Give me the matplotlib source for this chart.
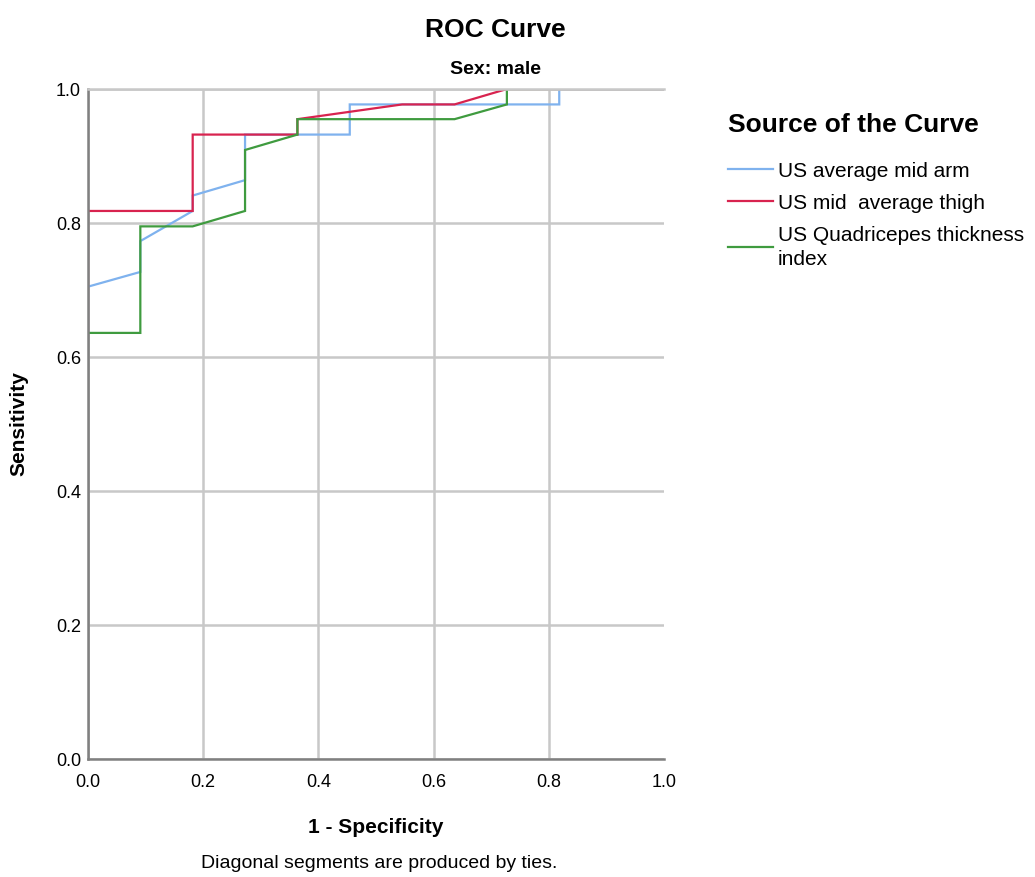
import numpy as np
import matplotlib
matplotlib.use("Agg")
import matplotlib.pyplot as plt

plt.rcParams['font.family'] = ['Liberation Sans Narrow', 'Liberation Sans', 'DejaVu Sans']

# ROC curve points (1 - specificity, sensitivity)
arm_x = [0.0, 0.0, 0.0909, 0.0909, 0.1818, 0.1818, 0.2727, 0.2727, 0.4545, 0.4545, 0.8182, 0.8182, 1.0]
arm_y = [0.0, 0.705, 0.727, 0.773, 0.818, 0.841, 0.864, 0.932, 0.932, 0.977, 0.977, 1.0, 1.0]

thigh_x = [0.0, 0.0, 0.1818, 0.1818, 0.3636, 0.3636, 0.5455, 0.6364, 0.7273, 1.0]
thigh_y = [0.0, 0.818, 0.818, 0.932, 0.932, 0.955, 0.977, 0.977, 1.0, 1.0]

quad_x = [0.0, 0.0, 0.0909, 0.0909, 0.1818, 0.2727, 0.2727, 0.3636, 0.3636, 0.6364, 0.7273, 0.7273, 1.0]
quad_y = [0.0, 0.636, 0.636, 0.795, 0.795, 0.818, 0.909, 0.932, 0.955, 0.955, 0.977, 1.0, 1.0]

labels = ["US average mid arm", "US mid  average thigh", "US Quadricepes thickness\nindex"]
colors = ["#7fb2ee", "#d8234f", "#3f9b3f"]
ticks = [0.0, 0.2, 0.4, 0.6, 0.8, 1.0]

fig = plt.figure(figsize=(10.35, 8.77), dpi=100)
ax = fig.add_axes([0.085, 0.1345, 0.5565, 0.764])

for xs, ys, c, lab in zip([arm_x, thigh_x, quad_x], [arm_y, thigh_y, quad_y], colors, labels):
    ax.plot(xs, ys, color=c, lw=1.6, label=lab, solid_joinstyle="miter")

ax.set_xlim(0, 1)
ax.set_ylim(0, 1)
ax.set_xticks(ticks)
ax.set_yticks(ticks)
ax.set_xticklabels([f"{t:.1f}" for t in ticks], fontsize=13)
ax.set_yticklabels([f"{t:.1f}" for t in ticks], fontsize=13)
ax.grid(True, color="#c8c8c8", lw=1.8)
ax.get_xgridlines()[-1].set_visible(False)
ax.set_axisbelow(True)
ax.tick_params(axis="x", length=0, pad=11)
ax.tick_params(axis="y", length=0, pad=5)
ax.spines["right"].set_visible(False)
ax.spines["top"].set_color("#c8c8c8")
ax.spines["top"].set_linewidth(1.8)
ax.spines["left"].set_color("#808080")
ax.spines["left"].set_linewidth(1.8)
ax.spines["bottom"].set_color("#808080")
ax.spines["bottom"].set_linewidth(1.8)

ax.set_xlabel("1 - Specificity", fontsize=15, fontweight="bold", labelpad=19)
ax.set_ylabel("Sensitivity", fontsize=15, fontweight="bold", labelpad=20)

fig.text(0.479, 0.966, "ROC Curve", ha="center", va="center", fontsize=19, fontweight="bold")
fig.text(0.479, 0.921, "Sex: male", ha="center", va="center", fontsize=14, fontweight="bold")
fig.text(0.366, 0.015, "Diagonal segments are produced by ties.", ha="center", va="center", fontsize=14)

leg = fig.legend(loc="upper left", bbox_to_anchor=(0.695, 0.881), frameon=False,
                 title="Source of the Curve", fontsize=15, handlelength=2.2,
                 handletextpad=0.2, labelspacing=0.62, borderaxespad=0)
leg.get_title().set_fontsize(19)
leg.get_title().set_fontweight("bold")
for t in leg.get_texts():
    t.set_linespacing(1.35)
leg._legend_box.align = "left"
leg._legend_box.sep = 18

fig.savefig("out.png", dpi=100)
